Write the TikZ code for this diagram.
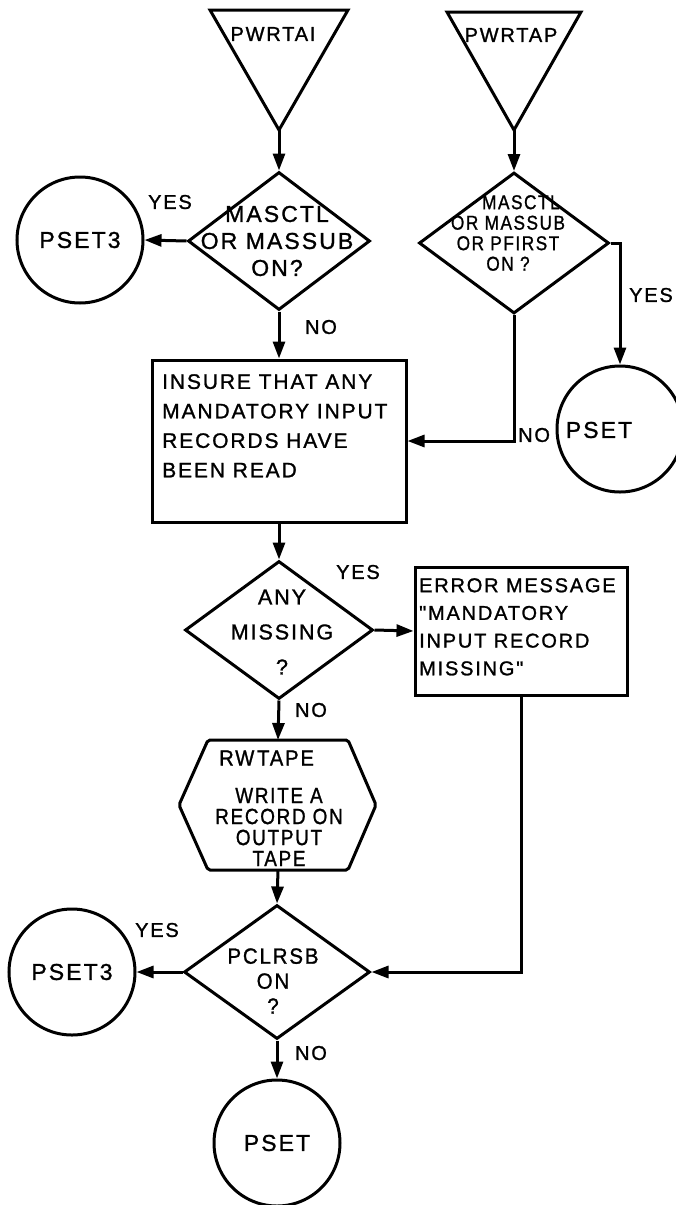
\documentclass[tikz,border=0pt]{standalone}
\usepackage{fontspec}
\setmainfont{Liberation Sans}[LetterSpace=9, FakeBold=1.2, Ligatures=TeXOff]
\usetikzlibrary{shapes.geometric,arrows.meta}
\begin{document}
\begin{tikzpicture}[x=1pt,y=-1pt,
  every node/.style={font=\fontsize{20}{29}\selectfont},
  line/.style={line width=3pt},
  arr/.style={line width=3pt, -{Triangle[length=17pt,width=12pt]}},
  dia/.style={draw, diamond, line width=3pt, inner sep=0pt},
  circ/.style={draw, circle, line width=3pt, minimum size=126pt, inner sep=0pt, font=\fontsize{23}{27}\selectfont},
  box/.style={draw, rectangle, line width=3pt, inner sep=0pt},
  txt/.style={align=center, inner sep=0pt},
  lbl/.style={inner sep=0pt}
]
\useasboundingbox (0,0) rectangle (676,1205);
\clip (0,0) rectangle (676,1205);

% entry triangles
\coordinate (t1a) at (279,130);
\draw[line, line join=miter] (210,10) -- (348,10) -- (t1a) -- cycle;
\node[lbl] (t1) at (273,34) {PWRTAI};
\coordinate (t2a) at (514,130);
\draw[line, line join=miter] (447,12) -- (581,12) -- (t2a) -- cycle;
\node[lbl] (t2) at (511,35) {PWRTAP};

% first decision
\node[dia, minimum width=182pt, minimum height=138pt] (d1) at (279,241) {};
\node[txt, font=\fontsize{23}{27}\selectfont] (d1t) at (277,241) {MASCTL\\OR MASSUB\\ON?};
\node[circ] (c1) at (80,240) {PSET3};
\node[lbl] (y1) at (170,202) {YES};
\node[lbl] (n1) at (321,327) {NO};

% second decision
\node[dia, minimum width=190pt, minimum height=141pt] (d2) at (514,243) {};
\node[txt] (d2t) at (508,233) {\scalebox{0.86}[1]{\parbox{170pt}{\centering\fontsize{20}{20.5}\selectfont
  \hspace*{30pt}MASCTL\\OR MASSUB\\OR PFIRST\\ON ?}}};
\node[circ] (c2) at (620,429) {};
\node[lbl, font=\fontsize{23}{27}\selectfont] (c2t) at (599,430) {PSET};
\node[lbl] (y2) at (651,295) {YES};
\node[lbl, anchor=west] (n2) at (518,435) {NO};

% process box
\node[box, minimum width=254pt, minimum height=162pt] (box1) at (279,441) {};
\node[lbl, anchor=north west, align=left, font=\fontsize{21}{29.5}\selectfont] (box1t) at (162,374)
  {INSURE THAT ANY\\MANDATORY INPUT\\RECORDS HAVE\\BEEN READ};

% any missing
\node[dia, minimum width=188pt, minimum height=138pt] (d3) at (279,630) {};
\node[txt, font=\fontsize{21.5}{35}\selectfont] (d3t) at (282,632) {ANY\\MISSING\\?};
\node[lbl] (y3) at (358,572) {YES};
\node[lbl] (n3) at (311,710) {NO};

% error box
\node[box, minimum width=212pt, minimum height=128pt] (err) at (521,631) {};
\node[lbl, anchor=north west, align=left, font=\fontsize{20}{27.7}\selectfont] (errt) at (419,578)
  {ERROR MESSAGE\\"MANDATORY\\INPUT RECORD\\MISSING"};

% hexagon
\coordinate (hexN) at (278,740);
\coordinate (hexS) at (278,870);
\draw[line, rounded corners=2pt] (208,740) -- (348,740) -- (376,805) -- (348,870) -- (208,870) -- (179,805) -- cycle;
\node[lbl, anchor=west, font=\fontsize{22}{26}\selectfont] (hext1) at (219,758) {\scalebox{0.92}[1]{RW\kern3pt TAPE}};
\node[txt] (hext2) at (279,827) {\scalebox{0.86}[1]{\parbox{170pt}{\centering\fontsize{22}{21}\selectfont
  WRITE A\\RECORD ON\\OUTPUT\\TAPE}}};

% last decision
\node[dia, minimum width=186pt, minimum height=134pt] (d4) at (277,972) {};
\node[txt] (d4t) at (273,981) {\scalebox{0.93}[1]{\parbox{120pt}{\centering\fontsize{22}{25}\selectfont
  PCLRSB\\ON\\?}}};
\node[circ] (c3) at (72,972) {PSET3};
\node[lbl] (y4) at (157,930) {YES};
\node[lbl] (n4) at (311,1053) {NO};
\node[circ] (c4) at (277,1143) {PSET};

% connectors
\draw[arr] (t1a) -- (d1.north);
\draw[arr] (t2a) -- (d2.north);
\draw[arr] (d1.west) -- (c1.east);
\draw[arr] (d1.south) -- (box1.north);
\draw[arr] (d2.east) -| (c2.north);
\draw[arr] (d2.south) |- (box1.east);
\draw[arr] (box1.south) -- (d3.north);
\draw[arr] (d3.east) -- (err.west);
\draw[arr] (d3.south) -- (hexN);
\draw[arr] (hexS) -- (d4.north);
\draw[arr] (d4.west) -- (c3.east);
\draw[arr] (err.south) |- (d4.east);
\draw[arr] (d4.south) -- (c4.north);
\end{tikzpicture}
\end{document}
